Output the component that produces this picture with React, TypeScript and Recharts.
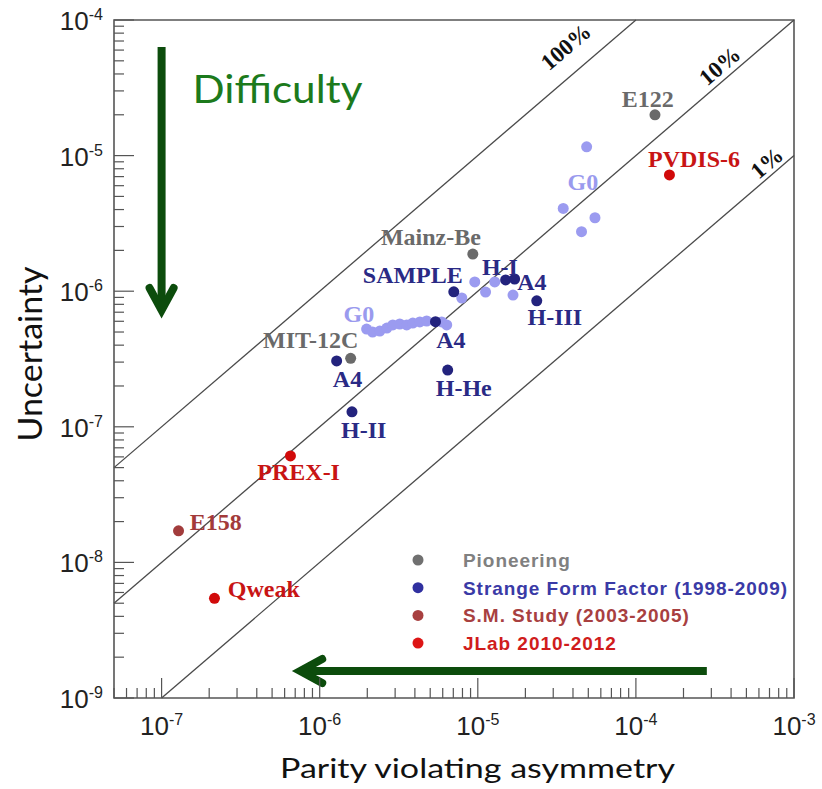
import React from "react"
import {
  ScatterChart,
  Scatter,
  XAxis,
  YAxis,
  ReferenceLine,
  ReferenceArea,
  Legend,
} from "recharts"

// x = parity violating asymmetry, y = uncertainty (both)
const PIONEERING = [
  { x: 1.32e-4, y: 2.0e-5 }, // E122
  { x: 9.3e-6, y: 1.88e-6 }, // Mainz-Be
  { x: 1.57e-6, y: 3.2e-7 }, // MIT-12C
]

const STRANGE_FF = [
  { x: 1.28e-6, y: 3.06e-7 }, // A4
  { x: 1.6e-6, y: 1.29e-7 }, // H-II
  { x: 7.05e-6, y: 9.9e-7 }, // SAMPLE
  { x: 5.4e-6, y: 5.96e-7 }, // A4
  { x: 6.45e-6, y: 2.62e-7 }, // H-He
  { x: 1.5e-5, y: 1.21e-6 }, // H-I
  { x: 1.71e-5, y: 1.23e-6 }, // A4
  { x: 2.36e-5, y: 8.5e-7 }, // H-III
]

// G0 points (drawn lighter, same campaign)
const G0_POINTS = [
  { x: 1.98e-6, y: 5.26e-7 },
  { x: 2.16e-6, y: 5.0e-7 },
  { x: 2.4e-6, y: 5.08e-7 },
  { x: 2.66e-6, y: 5.35e-7 },
  { x: 2.9e-6, y: 5.64e-7 },
  { x: 3.21e-6, y: 5.73e-7 },
  { x: 3.55e-6, y: 5.64e-7 },
  { x: 3.88e-6, y: 5.82e-7 },
  { x: 4.3e-6, y: 5.93e-7 },
  { x: 4.75e-6, y: 6.03e-7 },
  { x: 5.91e-6, y: 5.93e-7 },
  { x: 6.36e-6, y: 5.64e-7 },
  { x: 7.92e-6, y: 8.91e-7 },
  { x: 9.57e-6, y: 1.17e-6 },
  { x: 1.12e-5, y: 9.86e-7 },
  { x: 1.28e-5, y: 1.17e-6 },
  { x: 1.67e-5, y: 9.37e-7 },
  { x: 3.47e-5, y: 4.08e-6 },
  { x: 4.53e-5, y: 2.75e-6 },
  { x: 4.88e-5, y: 1.16e-5 },
  { x: 5.51e-5, y: 3.48e-6 },
]

const SM_STUDY = [
  { x: 1.28e-7, y: 1.71e-8 }, // E158
]

const JLAB = [
  { x: 1.63e-4, y: 7.2e-6 }, // PVDIS-6
  { x: 6.53e-7, y: 6.1e-8 }, // PREX-I
  { x: 2.16e-7, y: 5.43e-9 }, // Qweak
]

// experiment names, anchored in data space (centre / baseline)
const LABELS_GRAY = [
  { text: "E122", x: 1.19e-4, y: 2.28e-5 },
  { text: "Mainz-Be", x: 5.05e-6, y: 2.19e-6 },
  { text: "MIT-12C", x: 8.77e-7, y: 3.81e-7 },
]
const LABELS_BLUE = [
  { text: "SAMPLE", x: 3.88e-6, y: 1.15e-6 },
  { text: "H-I", x: 1.38e-5, y: 1.32e-6 },
  { text: "A4", x: 2.2e-5, y: 1.02e-6 },
  { text: "H-III", x: 3.07e-5, y: 5.64e-7 },
  { text: "A4", x: 6.75e-6, y: 3.81e-7 },
  { text: "A4", x: 1.5e-6, y: 1.97e-7 },
  { text: "H-He", x: 8.15e-6, y: 1.69e-7 },
  { text: "H-II", x: 1.9e-6, y: 8.26e-8 },
]
const LABELS_G0 = [
  { text: "G0", x: 4.62e-5, y: 5.57e-6 },
  { text: "G0", x: 1.77e-6, y: 5.93e-7 },
]
const LABELS_SM = [{ text: "E158", x: 2.2e-7, y: 1.73e-8 }]
const LABELS_JLAB = [
  { text: "PVDIS-6", x: 2.33e-4, y: 8.24e-6 },
  { text: "PREX-I", x: 7.36e-7, y: 4.06e-8 },
  { text: "Qweak", x: 4.43e-7, y: 5.56e-9 },
]

// relative precision lines: uncertainty = ratio * asymmetry
const RATIOS = [1, 0.1, 0.01]
const RATIO_LABELS = [
  { text: "100%", x: 3.61e-5, y: 6.32e-5 },
  { text: "10%", x: 3.4e-4, y: 4.58e-5 },
  { text: "1%", x: 6.74e-4, y: 8.81e-6 },
]

const DIFFICULTY_TEXT = [{ text: "Difficulty", x: 1.57e-7, y: 2.44e-5 }]
const ARROW_DOWN = [
  { x: 1.0e-7, y: 6.32e-5 },
  { x: 1.0e-7, y: 7.26e-7 },
]
const ARROW_LEFT = [
  { x: 2.81e-4, y: 1.58e-9 },
  { x: 7.53e-7, y: 1.58e-9 },
]

const X_DOMAIN = [5e-8, 1e-3]
const Y_DOMAIN = [1e-9, 1e-4]
const X_DECADES = [-8, -7, -6, -5, -4, -3]
const Y_DECADES = [-9, -8, -7, -6, -5, -4]
const MINOR_STEPS = [2, 3, 4, 5, 6, 7, 8, 9]

function logTicks(decades: number[], domain: number[]) {
  const out: number[] = []
  decades.forEach((d) => {
    const base = Math.pow(10, d)
    ;[1, ...MINOR_STEPS].forEach((m) => {
      const v = m * base
      if (v >= domain[0] * 0.9999 && v <= domain[1] * 1.0001) out.push(v)
    })
  })
  return out
}

const X_TICKS = logTicks(X_DECADES, X_DOMAIN)
const Y_TICKS = logTicks(Y_DECADES, Y_DOMAIN)

const SERIF = "'Liberation Serif', 'Times New Roman', serif"
const SANS = "'Liberation Sans', Arial, Helvetica, sans-serif"
const TITLE = "Lato, 'Open Sans', sans-serif"
const FRAME = "#555"
const GREEN_DARK = "#0c4c0c"
const GREEN = "#1c7a1c"

const SERIES = [
  { name: "Pioneering", legendDot: "#707070", legendText: "#808080" },
  { name: "Strange Form Factor (1998-2009)", legendDot: "#3030a0", legendText: "#3a3aa6" },
  { name: "S.M. Study (2003-2005)", legendDot: "#a84040", legendText: "#a84040" },
  { name: "JLab 2010-2012", legendDot: "#dd1515", legendText: "#d01c1c" },
]

function isMajor(v: number) {
  const l = Math.log10(v)
  return Math.abs(l - Math.round(l)) < 1e-6
}

function XTick(props: any) {
  const { x, y, payload } = props
  const v = payload.value
  const major = isMajor(v)
  return (
    <g>
      <line x1={x} y1={y} x2={x} y2={y - (major ? 20 : 10)} stroke={FRAME} strokeWidth={1.2} />
      {major && (
        <text x={x} y={y + 37} textAnchor="middle" fill="#222" fontFamily={SANS}>
          <tspan fontSize={26}>10</tspan>
          <tspan fontSize={16} dy={-10}>{Math.round(Math.log10(v))}</tspan>
        </text>
      )}
    </g>
  )
}

function YTick(props: any) {
  const { x, y, payload } = props
  const v = payload.value
  const major = isMajor(v)
  return (
    <g>
      <line x1={x} y1={y} x2={x + (major ? 20 : 10)} y2={y} stroke={FRAME} strokeWidth={1.2} />
      {major && (
        <text x={x - 11} y={y + 10} textAnchor="end" fill="#222" fontFamily={SANS}>
          <tspan fontSize={26}>10</tspan>
          <tspan fontSize={16} dy={-10}>{Math.round(Math.log10(v))}</tspan>
        </text>
      )}
    </g>
  )
}

const dotShape = (color: string) => (p: any) => (
  <circle cx={p.cx} cy={p.cy} r={5.5} fill={color} />
)

const nameShape = (color: string) => (p: any) => (
  <text
    x={p.cx}
    y={p.cy}
    textAnchor="middle"
    fill={color}
    fontFamily={SERIF}
    fontWeight={700}
    fontSize={24}
  >
    {p.payload.text}
  </text>
)

const ratioShape = (p: any) => (
  <text
    x={p.cx}
    y={p.cy}
    transform={`rotate(-40.6 ${p.cx} ${p.cy})`}
    textAnchor="middle"
    dominantBaseline="central"
    fill="#111"
    fontFamily={SERIF}
    fontWeight={700}
    fontSize={23}
  >
    {p.payload.text}
  </text>
)

const difficultyShape = (p: any) => (
  <text
    x={p.cx}
    y={p.cy}
    fill={GREEN}
    fontFamily={TITLE}
    fontSize={39}
    textLength={170}
    lengthAdjust="spacingAndGlyphs"
  >
    {p.payload.text}
  </text>
)

function ArrowShape(props: any) {
  const { x1, y1, x2, y2 } = props
  const dx = x2 - x1
  const dy = y2 - y1
  const len = Math.hypot(dx, dy) || 1
  const ux = dx / len
  const uy = dy / len
  const back = 22
  const side = 12
  const bx = x2 - ux * back
  const by = y2 - uy * back
  const a = `${bx - uy * side},${by + ux * side}`
  const b = `${bx + uy * side},${by - ux * side}`
  return (
    <g stroke={GREEN_DARK} strokeWidth={8} fill="none">
      <line x1={x1} y1={y1} x2={x2 - ux * 3} y2={y2 - uy * 3} />
      <polyline points={`${a} ${x2},${y2} ${b}`} strokeLinecap="round" strokeLinejoin="miter" />
    </g>
  )
}

function renderLegend() {
  return (
    <svg width={400} height={112} style={{ display: "block" }}>
      {SERIES.map((s, i) => {
        const cy = 14 + i * 27.7
        return (
          <g key={s.name}>
            <circle cx={11} cy={cy} r={5.5} fill={s.legendDot} />
            <text
              x={56}
              y={cy + 7}
              fill={s.legendText}
              fontFamily={SANS}
              fontWeight={700}
              fontSize={19}
              letterSpacing={0.95}
            >
              {s.name}
            </text>
          </g>
        )
      })}
    </svg>
  )
}

function renderXTitle(p: any) {
  const vb = p.viewBox || { x: 114, y: 698, width: 680, height: 91 }
  return (
    <text
      x={vb.x + vb.width / 2 + 23.5}
      y={vb.y + 80}
      textAnchor="middle"
      fill="#111"
      fontFamily={TITLE}
      fontSize={27}
      textLength={395}
      lengthAdjust="spacingAndGlyphs"
    >
      Parity violating asymmetry
    </text>
  )
}

function renderYTitle(p: any) {
  const vb = p.viewBox || { x: 0, y: 20, width: 114, height: 678 }
  const cx = vb.x + 42
  const cy = vb.y + vb.height / 2 - 5
  return (
    <text
      transform={`translate(${cx},${cy}) rotate(-90)`}
      textAnchor="middle"
      fill="#111"
      fontFamily={TITLE}
      fontSize={32}
      textLength={175}
      lengthAdjust="spacingAndGlyphs"
    >
      Uncertainty
    </text>
  )
}

export default function App() {
  return (
    <div style={{ width: 822, height: 789, background: "white", position: "relative" }}>
      <style>{"body{margin:0}"}</style>
      <ScatterChart width={822} height={789} margin={{ top: 20, right: 28, bottom: 0, left: 0 }}>
        <XAxis
          type="number"
          dataKey="x"
          scale="log"
          domain={X_DOMAIN}
          allowDataOverflow
          ticks={X_TICKS}
          interval={0}
          tick={XTick}
          tickLine={false}
          tickSize={0}
          tickMargin={0}
          axisLine={false}
          height={91}
          label={renderXTitle}
        />
        <YAxis
          type="number"
          dataKey="y"
          scale="log"
          domain={Y_DOMAIN}
          allowDataOverflow
          ticks={Y_TICKS}
          interval={0}
          tick={YTick}
          tickLine={false}
          tickSize={0}
          tickMargin={0}
          axisLine={false}
          width={114}
          label={renderYTitle}
        />

        <ReferenceArea
          x1={X_DOMAIN[0]}
          x2={X_DOMAIN[1]}
          y1={Y_DOMAIN[0]}
          y2={Y_DOMAIN[1]}
          fill="none"
          fillOpacity={0}
          stroke={FRAME}
          strokeWidth={1.6}
          ifOverflow="visible"
        />

        {RATIOS.map((r) => {
          const xs = Math.max(X_DOMAIN[0], Y_DOMAIN[0] / r)
          const xe = Math.min(X_DOMAIN[1], Y_DOMAIN[1] / r)
          return (
            <ReferenceLine
              key={r}
              segment={[
                { x: xs, y: xs * r },
                { x: xe, y: xe * r },
              ]}
              stroke="#4a4a4a"
              strokeWidth={1.3}
              ifOverflow="visible"
            />
          )
        })}

        <ReferenceLine segment={ARROW_DOWN} shape={ArrowShape} ifOverflow="visible" />
        <ReferenceLine segment={ARROW_LEFT} shape={ArrowShape} ifOverflow="visible" />

        <Scatter name="G0" data={G0_POINTS} fill="#9b9bf0" shape={dotShape("#9b9bf0")} legendType="none" isAnimationActive={false} />
        <Scatter name="Pioneering" data={PIONEERING} fill="#6a6a6a" shape={dotShape("#6a6a6a")} isAnimationActive={false} />
        <Scatter name="Strange Form Factor (1998-2009)" data={STRANGE_FF} fill="#23237d" shape={dotShape("#23237d")} isAnimationActive={false} />
        <Scatter name="S.M. Study (2003-2005)" data={SM_STUDY} fill="#a23c3c" shape={dotShape("#a23c3c")} isAnimationActive={false} />
        <Scatter name="JLab 2010-2012" data={JLAB} fill="#d10a0a" shape={dotShape("#d10a0a")} isAnimationActive={false} />

        <Scatter data={LABELS_GRAY} shape={nameShape("#6a6a6a")} legendType="none" isAnimationActive={false} />
        <Scatter data={LABELS_BLUE} shape={nameShape("#2a2a85")} legendType="none" isAnimationActive={false} />
        <Scatter data={LABELS_G0} shape={nameShape("#9a9aee")} legendType="none" isAnimationActive={false} />
        <Scatter data={LABELS_SM} shape={nameShape("#a33a3a")} legendType="none" isAnimationActive={false} />
        <Scatter data={LABELS_JLAB} shape={nameShape("#c81414")} legendType="none" isAnimationActive={false} />
        <Scatter data={RATIO_LABELS} shape={ratioShape} legendType="none" isAnimationActive={false} />
        <Scatter data={DIFFICULTY_TEXT} shape={difficultyShape} legendType="none" isAnimationActive={false} />

        <Legend
          layout="vertical"
          align="center"
          verticalAlign="middle"
          content={renderLegend}
          wrapperStyle={{ left: 407, top: 546, width: 400, height: 112 }}
        />
      </ScatterChart>
    </div>
  )
}
